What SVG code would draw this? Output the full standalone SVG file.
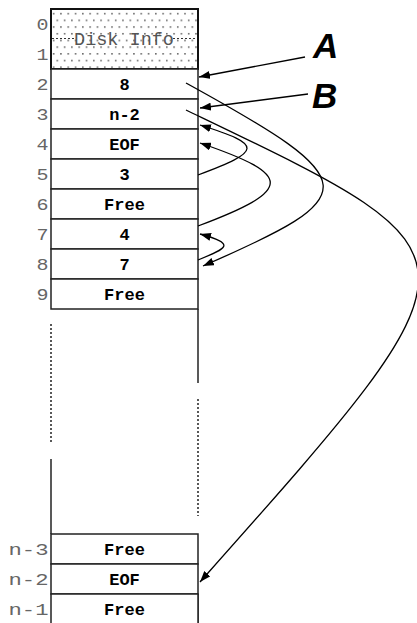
<svg xmlns="http://www.w3.org/2000/svg" width="417" height="623" viewBox="0 0 417 623">
<style>
.cell{fill:#fff;stroke:#222;stroke-width:1.5}
.ct{font-family:"Liberation Mono",monospace;font-weight:bold;font-size:17px;fill:#000;text-anchor:middle}
.lb{font-family:"Liberation Mono",monospace;font-size:17px;fill:#666;text-anchor:end}
.edge{fill:none;stroke:#000;stroke-width:1.3}
.solid{stroke:#222;stroke-width:1.5;fill:none}
.dot{stroke:#222;stroke-width:1.5;stroke-dasharray:2 2;fill:none}
.big{font-family:"Liberation Sans",Arial,sans-serif;font-weight:bold;font-style:italic;font-size:35px;fill:#000}
</style>
<defs>
<pattern id="dots" x="51" y="9" width="7.3" height="13.4" patternUnits="userSpaceOnUse">
<rect x="2" y="4" width="1.3" height="1.3" fill="#222"/>
<rect x="5.65" y="10.7" width="1.3" height="1.3" fill="#222"/>
</pattern>
<marker id="ah" viewBox="0 0 11 8" refX="11" refY="4" markerWidth="11" markerHeight="8" markerUnits="userSpaceOnUse" orient="auto">
<path d="M0,0 L11,4 L0,8 Z" fill="#000"/>
</marker>
</defs>
<rect width="417" height="623" fill="#fff"/>

<g id="disk-info">
<rect x="51" y="9" width="147" height="60" fill="url(#dots)" stroke="#111" stroke-width="2"/>
<line x1="52" y1="38.5" x2="75" y2="38.5" stroke="#333" stroke-width="1.2" stroke-dasharray="2 2"/>
<line x1="173" y1="38.5" x2="197" y2="38.5" stroke="#333" stroke-width="1.2" stroke-dasharray="2 2"/>
<text x="124" y="45" font-family="Liberation Mono, monospace" font-size="18.5px" fill="#555" text-anchor="middle">Disk Info</text>
<text class="lb" x="48.5" y="30" textLength="12" lengthAdjust="spacingAndGlyphs">0</text>
<text class="lb" x="48.5" y="60" textLength="12" lengthAdjust="spacingAndGlyphs">1</text>
</g>

<g id="row2"><rect class="cell" x="51" y="69" width="147" height="30"/><text class="ct" x="124.5" y="90">8</text><text class="lb" x="48.5" y="89.5" textLength="12" lengthAdjust="spacingAndGlyphs">2</text></g>
<g id="row3"><rect class="cell" x="51" y="99" width="147" height="30"/><text class="ct" x="124.5" y="120">n-2</text><text class="lb" x="48.5" y="119.5" textLength="12" lengthAdjust="spacingAndGlyphs">3</text></g>
<g id="row4"><rect class="cell" x="51" y="129" width="147" height="30"/><text class="ct" x="124.5" y="150">EOF</text><text class="lb" x="48.5" y="149.5" textLength="12" lengthAdjust="spacingAndGlyphs">4</text></g>
<g id="row5"><rect class="cell" x="51" y="159" width="147" height="30"/><text class="ct" x="124.5" y="180">3</text><text class="lb" x="48.5" y="179.5" textLength="12" lengthAdjust="spacingAndGlyphs">5</text></g>
<g id="row6"><rect class="cell" x="51" y="189" width="147" height="30"/><text class="ct" x="124.5" y="210">Free</text><text class="lb" x="48.5" y="209.5" textLength="12" lengthAdjust="spacingAndGlyphs">6</text></g>
<g id="row7"><rect class="cell" x="51" y="219" width="147" height="30"/><text class="ct" x="124.5" y="240">4</text><text class="lb" x="48.5" y="239.5" textLength="12" lengthAdjust="spacingAndGlyphs">7</text></g>
<g id="row8"><rect class="cell" x="51" y="249" width="147" height="30"/><text class="ct" x="124.5" y="270">7</text><text class="lb" x="48.5" y="269.5" textLength="12" lengthAdjust="spacingAndGlyphs">8</text></g>
<g id="row9"><rect class="cell" x="51" y="279" width="147" height="30"/><text class="ct" x="124.5" y="300">Free</text><text class="lb" x="48.5" y="299.5" textLength="12" lengthAdjust="spacingAndGlyphs">9</text></g>

<g id="gap">
<line class="solid" x1="198" y1="309" x2="198" y2="383"/>
<line class="dot" x1="198" y1="399" x2="198" y2="516"/>
<line class="dot" x1="51" y1="324" x2="51" y2="442"/>
<line class="solid" x1="51" y1="459" x2="51" y2="534"/>
<line class="solid" x1="198" y1="594" x2="198" y2="623"/>
</g>

<g id="row-n3"><rect class="cell" x="51" y="534" width="147" height="30"/><text class="ct" x="124.5" y="555">Free</text><text class="lb" x="48.5" y="555" textLength="40" lengthAdjust="spacingAndGlyphs">n-3</text></g>
<g id="row-n2"><rect class="cell" x="51" y="564" width="147" height="30"/><text class="ct" x="124.5" y="585">EOF</text><text class="lb" x="48.5" y="585" textLength="40" lengthAdjust="spacingAndGlyphs">n-2</text></g>
<g id="row-n1"><rect class="cell" x="51" y="594" width="147" height="30"/><text class="ct" x="124.5" y="615">Free</text><text class="lb" x="48.5" y="615" textLength="40" lengthAdjust="spacingAndGlyphs">n-1</text></g>

<g id="label-A"><text class="big" x="313" y="58">A</text></g>
<g id="label-B"><text class="big" x="312" y="108">B</text></g>

<g id="connectors">
<path class="edge" d="M305,57 L199,77" marker-end="url(#ah)"/>
<path class="edge" d="M308,94 L200,108" marker-end="url(#ah)"/>
<path class="edge" d="M186,83 C366,182 366,195 203,266" marker-end="url(#ah)"/>
<path class="edge" d="M186,110 C492,257 495,250 200,582" marker-end="url(#ah)"/>
<path class="edge" d="M198,175 C262,151 264,145 200,125" marker-end="url(#ah)"/>
<path class="edge" d="M198,226 C294,190 294,175 200,143" marker-end="url(#ah)"/>
<path class="edge" d="M198,260 C228,248 236,244 200,234" marker-end="url(#ah)"/>
</g>
</svg>
